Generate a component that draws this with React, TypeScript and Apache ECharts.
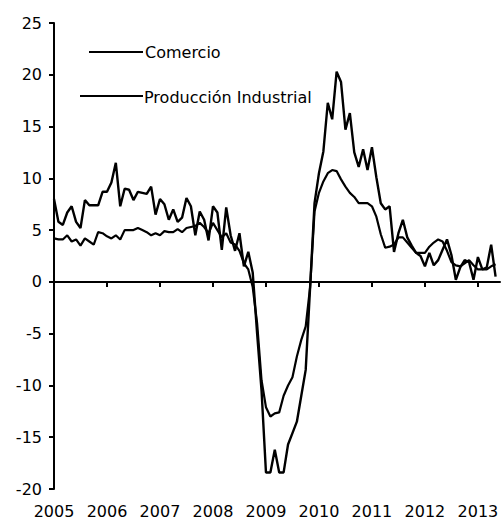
import React, { useEffect, useRef } from "react";
import * as echarts from "echarts";

// Monthly observations, January 2005 to May 2013 (axis runs to June 2013)
const START_YEAR = 2005;
const MONTH_COUNT = 102;

const SERIES_NAMES = ["Comercio", "Producción Industrial"];

const comercio = [
  4.2, 4.1, 4.1, 4.5, 3.9, 4.1, 3.5, 4.2, 3.9, 3.6, 4.8, 4.7,
  4.4, 4.2, 4.5, 4.1, 5.0, 5.0, 5.0, 5.2, 5.0, 4.8, 4.5, 4.7,
  4.5, 4.9, 4.8, 4.8, 5.1, 4.8, 5.2, 5.3, 5.4, 5.7, 5.3, 4.7,
  5.7, 5.0, 4.3, 4.7, 3.8, 3.6, 3.0, 1.8, 1.2, -0.5, -4.0, -9.5,
  -12.1, -13.0, -12.7, -12.6, -11.0, -10.0, -9.2, -7.2, -5.6, -4.3, -0.5, 6.8,
  8.6, 9.7, 10.5, 10.8, 10.7, 9.9, 9.2, 8.6, 8.2, 7.6, 7.6, 7.6,
  7.3, 6.3, 4.6, 3.3, 3.4, 3.6, 4.3, 4.3, 3.8, 3.3, 2.8, 2.8,
  2.8, 3.4, 3.8, 4.1, 3.9, 3.0, 1.9, 1.6, 1.5, 1.8, 2.1, 1.6,
  1.2, 1.2, 1.2, 1.5, 1.7,
];

const produccion = [
  8.0, 5.8, 5.5, 6.7, 7.3, 5.8, 5.2, 7.9, 7.4, 7.4, 7.4, 8.7,
  8.7, 9.6, 11.5, 7.3, 9.0, 8.9, 7.9, 8.7, 8.6, 8.5, 9.2, 6.5,
  8.0, 7.5, 6.0, 7.0, 5.8, 6.2, 8.1, 7.3, 4.5, 6.8, 6.0, 4.0,
  7.3, 6.7, 3.1, 7.2, 4.5, 3.0, 4.7, 1.5, 2.9, 0.9, -5.0, -10.5,
  -18.4, -18.4, -16.2, -18.4, -18.4, -15.7, -14.6, -13.5, -11.0, -8.5, -0.5, 7.6,
  10.5, 12.6, 17.3, 15.7, 20.3, 19.3, 14.7, 16.3, 12.5, 11.1, 12.8, 10.8,
  13.0, 10.1, 7.6, 7.0, 7.3, 2.9, 4.7, 6.0, 4.3, 3.5, 2.8, 2.5,
  1.5, 2.8, 1.6, 2.1, 3.1, 4.1, 2.6, 0.2, 1.4, 2.1, 1.9, 0.2,
  2.4, 1.2, 1.4, 3.6, 0.5,
];

const Y_MIN = -20;
const Y_MAX = 25;
const Y_STEP = 5;

const months: string[] = [];
for (let i = 0; i < MONTH_COUNT; i++) {
  const y = START_YEAR + Math.floor(i / 12);
  const m = (i % 12) + 1;
  months.push(`${y}-${String(m).padStart(2, "0")}`);
}

const FONT = '"DejaVu Sans", sans-serif';
const isJanuary = (idx: number) => idx % 12 === 0;

export default function App() {
  const ref = useRef<HTMLDivElement>(null);

  useEffect(() => {
    if (!ref.current) return;
    const chart = echarts.init(ref.current, undefined, { renderer: "svg" });
    chart.setOption({
      animation: false,
      backgroundColor: "#ffffff",
      grid: { left: 54, right: 3, top: 23, bottom: 34, containLabel: false },
      xAxis: [
        {
          type: "category",
          data: months,
          boundaryGap: false,
          position: "bottom",
          axisLine: { show: true, onZero: true, lineStyle: { color: "#000", width: 2 } },
          axisTick: { show: true, interval: isJanuary, length: 5, inside: false, lineStyle: { color: "#000", width: 2 } },
          axisLabel: { show: false },
          splitLine: { show: false },
        },
        {
          type: "category",
          data: months,
          boundaryGap: false,
          position: "bottom",
          axisLine: { show: false, onZero: false },
          axisTick: { show: false },
          axisLabel: {
            show: true,
            interval: isJanuary,
            formatter: (v: string) => v.slice(0, 4),
            color: "#000",
            fontSize: 16,
            fontFamily: FONT,
            margin: 14,
          },
          splitLine: { show: false },
        },
      ],
      yAxis: {
        type: "value",
        min: Y_MIN,
        max: Y_MAX,
        interval: Y_STEP,
        axisLine: { show: true, onZero: false, lineStyle: { color: "#000", width: 2 } },
        axisTick: { show: true, length: 5, lineStyle: { color: "#000", width: 2 } },
        axisLabel: { color: "#000", fontSize: 16, fontFamily: FONT, margin: 12 },
        splitLine: { show: false },
      },
      series: [
        {
          name: SERIES_NAMES[0],
          type: "line",
          data: comercio,
          showSymbol: false,
          symbol: "none",
          lineStyle: { color: "#000", width: 2.2 },
          z: 3,
        },
        {
          name: SERIES_NAMES[1],
          type: "line",
          data: produccion,
          showSymbol: false,
          symbol: "none",
          lineStyle: { color: "#000", width: 2.4 },
          z: 3,
        },
      ],
      graphic: [
        { type: "line", shape: { x1: 89, y1: 52, x2: 143, y2: 52 }, style: { stroke: "#000", lineWidth: 2 } },
        { type: "text", x: 145, y: 52, style: { text: SERIES_NAMES[0], fill: "#000", fontSize: 16, fontFamily: FONT, verticalAlign: "middle", align: "left" } },
        { type: "line", shape: { x1: 80, y1: 96, x2: 143, y2: 96 }, style: { stroke: "#000", lineWidth: 2 } },
        { type: "text", x: 144, y: 97, style: { text: SERIES_NAMES[1], fill: "#000", fontSize: 16, fontFamily: FONT, verticalAlign: "middle", align: "left" } },
      ],
    });
    return () => chart.dispose();
  }, []);

  return (
    <div
      ref={ref}
      style={{ position: "fixed", left: 0, top: 0, width: 503, height: 523 }}
    />
  );
}
